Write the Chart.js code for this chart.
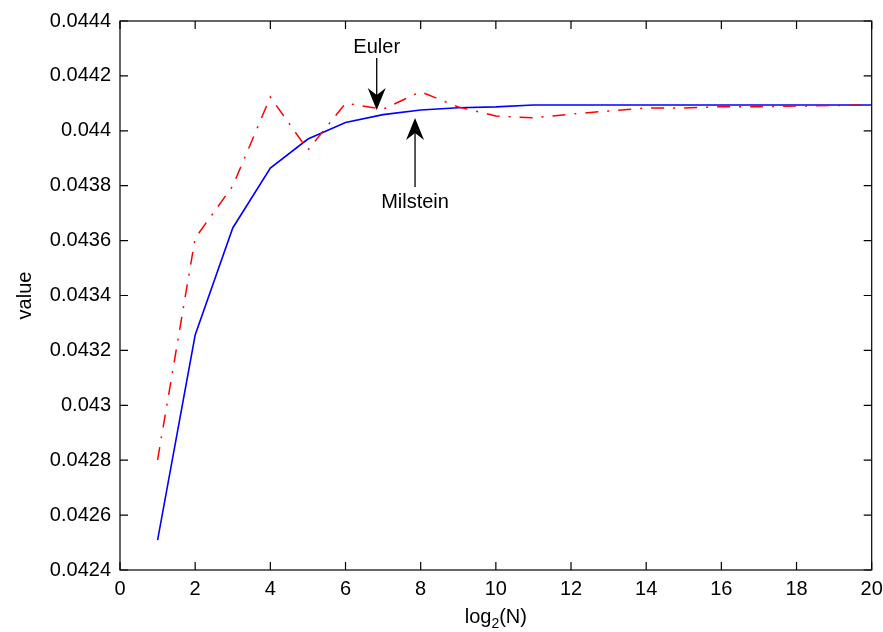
<!DOCTYPE html>
<html>
<head>
<meta charset="utf-8">
<script src="https://cdn.jsdelivr.net/npm/chart.js@4/dist/chart.umd.min.js"></script>
<style>
  html, body { margin: 0; padding: 0; background: #ffffff; }
  #wrap { width: 883px; height: 632px; }
</style>
</head>
<body>
<div id="wrap"><canvas id="c"></canvas></div>
<script>
// Convergence of the estimated value against log2 of the number of steps
const log2N = [1, 2, 3, 4, 5, 6, 7, 8, 9, 10, 11, 12, 13, 14, 15, 16, 17, 18, 19, 20];

const eulerValues = [
  0.042801, 0.043609, 0.043799, 0.044123, 0.043930,
  0.044100, 0.044079, 0.044142, 0.044087, 0.044054,
  0.044047, 0.044061, 0.044072, 0.044083, 0.044083,
  0.044088, 0.044088, 0.044090, 0.044092, 0.044094
];

const milsteinValues = [
  0.042509, 0.043256, 0.043646, 0.043864, 0.043970,
  0.044030, 0.044059, 0.044076, 0.044084, 0.044087,
  0.044094, 0.044094, 0.044094, 0.044094, 0.044094,
  0.044094, 0.044094, 0.044094, 0.044094, 0.044094
];

const xTicks = [0, 2, 4, 6, 8, 10, 12, 14, 16, 18, 20];
const yTicks = [0.0424, 0.0426, 0.0428, 0.043, 0.0432, 0.0434, 0.0436, 0.0438, 0.044, 0.0442, 0.0444];
const yTickLabels = ['0.0424', '0.0426', '0.0428', '0.043', '0.0432', '0.0434', '0.0436', '0.0438', '0.044', '0.0442', '0.0444'];

// Arrow callouts, in data units: arrow runs from tail to tip, label baseline at textY
const callouts = [
  { label: 'Euler',    x: 6.83, tail: 0.044265, tip: 0.044076, textY: 0.044283 },
  { label: 'Milstein', x: 7.85, tail: 0.043795, tip: 0.044047, textY: 0.043719 }
];

const FONT = "'Liberation Sans', Arial, Helvetica, sans-serif";
Chart.defaults.font.family = FONT;
Chart.defaults.font.size = 20;
Chart.defaults.color = '#000000';

const toPoints = vals => log2N.map((n, i) => ({ x: n, y: vals[i] }));

// Box around the plot area with inward tick marks on all four sides
const framePlugin = {
  id: 'frame',
  afterDatasetsDraw(chart) {
    const { ctx, chartArea: a, scales: { x, y } } = chart;
    const len = 8;
    ctx.save();
    ctx.strokeStyle = '#000000';
    ctx.lineWidth = 1.2;
    ctx.beginPath();
    xTicks.forEach(v => {
      const px = x.getPixelForValue(v);
      ctx.moveTo(px, a.bottom); ctx.lineTo(px, a.bottom - len);
      ctx.moveTo(px, a.top); ctx.lineTo(px, a.top + len);
    });
    yTicks.forEach(v => {
      const py = y.getPixelForValue(v);
      ctx.moveTo(a.left, py); ctx.lineTo(a.left + len, py);
      ctx.moveTo(a.right, py); ctx.lineTo(a.right - len, py);
    });
    ctx.stroke();
    ctx.strokeRect(a.left, a.top, a.right - a.left, a.bottom - a.top);
    ctx.restore();
  }
};

// x-axis title with a subscript, and the arrow callouts
const labelPlugin = {
  id: 'labels',
  afterDraw(chart) {
    const { ctx, chartArea: a, scales: { x, y } } = chart;
    ctx.save();
    ctx.fillStyle = '#000000';
    ctx.textBaseline = 'alphabetic';
    ctx.textAlign = 'left';

    // log_2(N)
    const big = '20px ' + FONT, small = '14px ' + FONT;
    ctx.font = big;
    const w1 = ctx.measureText('log').width;
    const w3 = ctx.measureText('(N)').width;
    ctx.font = small;
    const w2 = ctx.measureText('2').width;
    const cx = (a.left + a.right) / 2;
    let sx = cx - (w1 + w2 + w3) / 2;
    const base = a.bottom + 53;
    ctx.font = big; ctx.fillText('log', sx, base); sx += w1;
    ctx.font = small; ctx.fillText('2', sx, base + 5); sx += w2;
    ctx.font = big; ctx.fillText('(N)', sx, base);

    // arrows
    ctx.strokeStyle = '#000000';
    ctx.lineWidth = 1.3;
    callouts.forEach(c => {
      const px = x.getPixelForValue(c.x);
      const pTail = y.getPixelForValue(c.tail);
      const pTip = y.getPixelForValue(c.tip);
      const pText = y.getPixelForValue(c.textY);
      const dir = Math.sign(pTip - pTail);
      const L = 22, W = 9, notch = 7;
      ctx.beginPath();
      ctx.moveTo(px, pTail);
      ctx.lineTo(px, pTip - dir * (L - notch));
      ctx.stroke();
      ctx.beginPath();
      ctx.moveTo(px, pTip);
      ctx.lineTo(px - W, pTip - dir * L);
      ctx.lineTo(px, pTip - dir * (L - notch));
      ctx.lineTo(px + W, pTip - dir * L);
      ctx.closePath();
      ctx.fill();
      ctx.font = big;
      ctx.textAlign = 'center';
      ctx.fillText(c.label, px, pText);
    });
    ctx.restore();
  }
};

new Chart(document.getElementById('c'), {
  type: 'line',
  data: {
    datasets: [
      {
        label: 'Euler',
        data: toPoints(eulerValues),
        borderColor: '#ff0000',
        borderWidth: 1.5,
        borderDash: [13, 9, 2, 9],
        pointRadius: 0,
        fill: false,
        tension: 0
      },
      {
        label: 'Milstein',
        data: toPoints(milsteinValues),
        borderColor: '#0000ff',
        borderWidth: 1.6,
        pointRadius: 0,
        fill: false,
        tension: 0
      }
    ]
  },
  options: {
    responsive: true,
    maintainAspectRatio: false,
    animation: false,
    devicePixelRatio: 1,
    layout: { padding: { left: 0, top: 21, right: 11.3, bottom: 0 } },
    plugins: {
      legend: { display: false },
      tooltip: { enabled: false }
    },
    scales: {
      x: {
        type: 'linear',
        min: 0,
        max: 20,
        afterBuildTicks: s => { s.ticks = xTicks.map(v => ({ value: v })); },
        afterFit: s => { s.height = 62; s.paddingLeft = 0; s.paddingRight = 0; },
        grid: { display: true, drawOnChartArea: false, drawTicks: false },
        border: { display: false },
        ticks: { padding: 7, maxRotation: 0, autoSkip: false, callback: v => String(v) }
      },
      y: {
        type: 'linear',
        min: 0.0424,
        max: 0.0444,
        afterBuildTicks: s => { s.ticks = yTicks.map(v => ({ value: v })); },
        afterFit: s => { s.width = 120; s.paddingTop = 0; s.paddingBottom = 0; },
        grid: { display: true, drawOnChartArea: false, drawTicks: false },
        border: { display: false },
        ticks: {
          padding: 9,
          autoSkip: false,
          callback: (v, i) => yTickLabels[i]
        },
        title: { display: true, text: 'value', padding: { top: 13, bottom: 0 } }
      }
    }
  },
  plugins: [framePlugin, labelPlugin]
});
</script>
</body>
</html>
